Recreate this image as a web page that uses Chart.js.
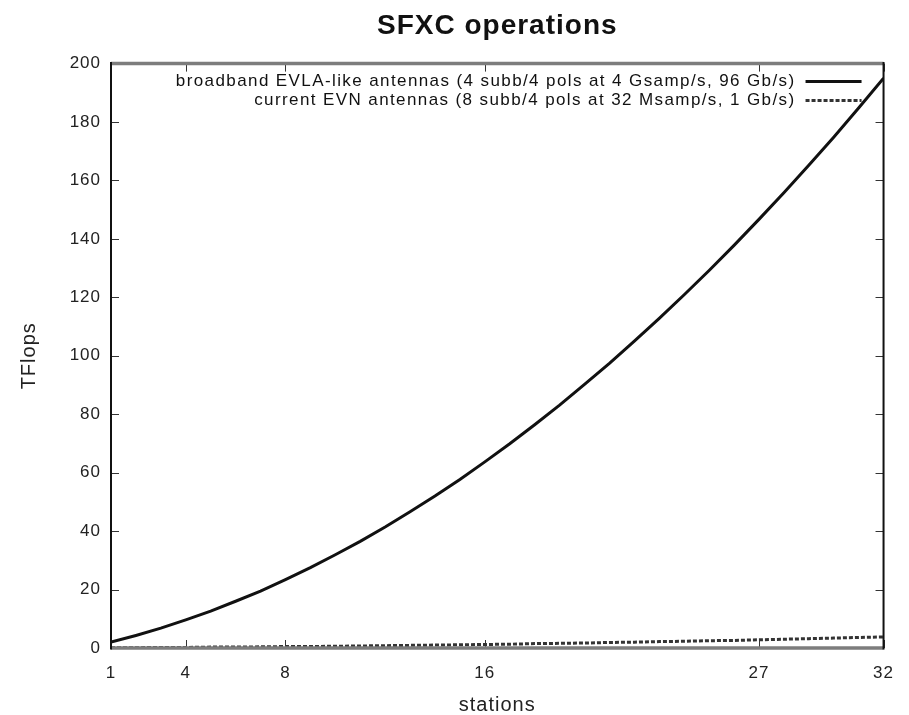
<!DOCTYPE html>
<html>
<head>
<meta charset="utf-8">
<script src="https://cdn.jsdelivr.net/npm/chart.js@4/dist/chart.umd.min.js"></script>
<style>
  body { margin: 0; background: #fff; }
  canvas { display: block; }
</style>
</head>
<body>
<canvas id="sfxcChart" width="909" height="715"></canvas>
<script>
// values
const stations = [1, 2, 3, 4, 5, 6, 7, 8, 9, 10, 11, 12, 13, 14, 15, 16,
                  17, 18, 19, 20, 21, 22, 23, 24, 25, 26, 27, 28, 29, 30, 31, 32];
const broadband = [2.0, 4.3, 6.8, 9.6, 12.6, 16.0, 19.5, 23.4, 27.5, 31.9, 36.5, 41.4, 46.6, 52.0, 57.7, 63.7,
                   69.9, 76.4, 83.1, 90.2, 97.4, 105.0, 112.8, 120.9, 129.2, 137.8, 146.7, 155.8, 165.2, 174.8, 184.8, 195.0];
const currentEvn = [0.1, 0.1, 0.2, 0.2, 0.3, 0.3, 0.4, 0.5, 0.5, 0.6, 0.7, 0.8, 0.9, 1.0, 1.1, 1.2,
                    1.3, 1.5, 1.6, 1.7, 1.9, 2.0, 2.2, 2.3, 2.5, 2.6, 2.8, 3.0, 3.2, 3.4, 3.6, 3.8];
const stationTicks = [1, 4, 8, 16, 27, 32];
const seriesNames = [
    'broadband EVLA-like antennas (4 subb/4 pols at 4 Gsamp/s, 96 Gb/s)',
    'current EVN antennas (8 subb/4 pols at 32 Msamp/s, 1 Gb/s)'
];

const FONT = '"Liberation Sans", Arial, sans-serif';

// gnuplot-ish text spacing
const spacing = {
    id: 'spacing',
    beforeUpdate(chart) { chart.ctx.letterSpacing = '1px'; },
    beforeDraw(chart) { chart.ctx.letterSpacing = '1px'; }
};

// key in the top right corner, sample line to the right of the text
const gnuKey = {
    id: 'gnuKey',
    afterDatasetsDraw(chart) {
        const ctx = chart.ctx;
        const area = chart.chartArea;
        ctx.save();
        ctx.font = '17px ' + FONT;
        ctx.letterSpacing = '1.4px';
        ctx.fillStyle = '#111';
        ctx.textAlign = 'right';
        ctx.textBaseline = 'middle';
        chart.data.datasets.forEach((ds, i) => {
            const y = area.top + 18 + i * 19;
            ctx.fillText(ds.label, area.right - 88, y);
            ctx.beginPath();
            ctx.strokeStyle = ds.borderColor;
            ctx.lineWidth = ds.borderWidth;
            ctx.setLineDash(ds.borderDash || []);
            ctx.moveTo(area.right - 78, y);
            ctx.lineTo(area.right - 22, y);
            ctx.stroke();
        });
        ctx.restore();
    }
};

// border box with inward mirrored ticks
const frame = {
    id: 'frame',
    afterDraw(chart) {
        const ctx = chart.ctx;
        const a = chart.chartArea;
        const xs = chart.scales.x, ys = chart.scales.y;
        ctx.save();
        ctx.setLineDash([]);
        ctx.strokeStyle = '#333';
        ctx.lineWidth = 1;
        ys.ticks.forEach(t => {
            const y = Math.round(ys.getPixelForValue(t.value)) + 0.5;
            ctx.beginPath();
            ctx.moveTo(a.left, y); ctx.lineTo(a.left + 8, y);
            ctx.moveTo(a.right, y); ctx.lineTo(a.right - 8, y);
            ctx.stroke();
        });
        xs.ticks.forEach(t => {
            const x = Math.round(xs.getPixelForValue(t.value)) + 0.5;
            ctx.beginPath();
            ctx.moveTo(x, a.bottom); ctx.lineTo(x, a.bottom - 8);
            ctx.moveTo(x, a.top); ctx.lineTo(x, a.top + 8);
            ctx.stroke();
        });
        ctx.strokeStyle = '#7d7d7d';
        ctx.lineWidth = 3.5;
        ctx.beginPath();
        ctx.moveTo(a.left, a.top); ctx.lineTo(a.right, a.top);
        ctx.moveTo(a.left, a.bottom); ctx.lineTo(a.right, a.bottom);
        ctx.stroke();
        ctx.strokeStyle = '#111';
        ctx.lineWidth = 2;
        ctx.beginPath();
        ctx.moveTo(a.left, a.top - 1.5); ctx.lineTo(a.left, a.bottom + 1.5);
        ctx.moveTo(a.right, a.top - 1.5); ctx.lineTo(a.right, a.bottom + 1.5);
        ctx.stroke();
        ctx.restore();
    }
};

const ctx = document.getElementById('sfxcChart').getContext('2d');
new Chart(ctx, {
    type: 'line',
    data: {
        datasets: [{
            label: seriesNames[0],
            data: stations.map((s, i) => ({ x: s, y: broadband[i] })),
            borderColor: '#111',
            borderWidth: 3,
            pointRadius: 0,
            tension: 0
        }, {
            label: seriesNames[1],
            data: stations.map((s, i) => ({ x: s, y: currentEvn[i] })),
            borderColor: '#333',
            borderWidth: 3,
            borderDash: [4, 2],
            pointRadius: 0,
            tension: 0
        }]
    },
    options: {
        responsive: false,
        devicePixelRatio: 1,
        animation: false,
        layout: { padding: { left: 0, right: 25, top: 0, bottom: 0 } },
        plugins: {
            legend: { display: false },
            tooltip: { enabled: false },
            title: {
                display: true,
                text: 'SFXC operations',
                fullSize: false,
                color: '#111',
                font: { family: FONT, size: 28, weight: 'bold' },
                padding: { top: 9, bottom: 21 }
            }
        },
        scales: {
            x: {
                type: 'linear',
                min: 1,
                max: 32,
                afterBuildTicks: scale => { scale.ticks = stationTicks.map(v => ({ value: v })); },
                afterFit: scale => { scale.height = 67; },
                grid: { display: false, drawTicks: false },
                border: { display: false },
                ticks: {
                    color: '#222',
                    font: { family: FONT, size: 17 },
                    padding: 15,
                    maxRotation: 0,
                    autoSkip: false
                },
                title: {
                    display: true,
                    text: 'stations',
                    color: '#222',
                    font: { family: FONT, size: 20, lineHeight: 1 },
                    padding: { top: 0, bottom: 0 }
                }
            },
            y: {
                min: 0,
                max: 200,
                afterFit: scale => { scale.width = 111; },
                grid: { display: false, drawTicks: false },
                border: { display: false },
                ticks: {
                    stepSize: 20,
                    color: '#222',
                    font: { family: FONT, size: 17 },
                    padding: 10
                },
                title: {
                    display: true,
                    text: 'TFlops',
                    color: '#222',
                    font: { family: FONT, size: 20, lineHeight: 1 },
                    padding: { top: 19, bottom: 0 }
                }
            }
        }
    },
    plugins: [spacing, gnuKey, frame]
});
</script>
</body>
</html>
